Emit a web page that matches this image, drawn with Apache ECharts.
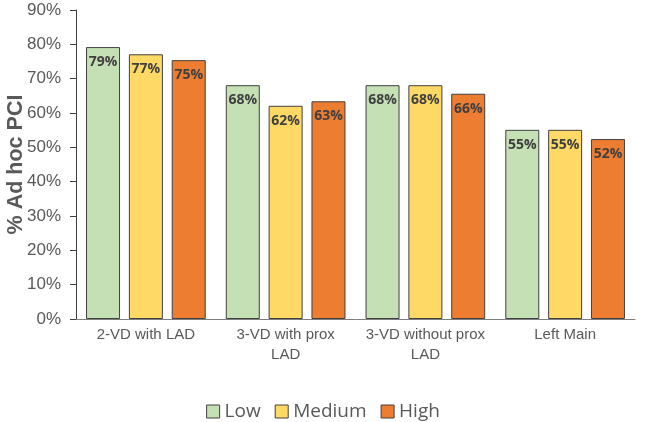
<!DOCTYPE html>
<html><head><meta charset="utf-8">
<script src="https://cdn.jsdelivr.net/npm/echarts@6/dist/echarts.min.js"></script>
<style>html,body{margin:0;padding:0;background:#fff}#c{width:646px;height:422px}</style>
</head><body><div id="c"></div>
<script>
var categories = ['2-VD with LAD', '3-VD with prox\nLAD', '3-VD without prox\nLAD', 'Left Main'];
var lowValues = [79.2, 68.1, 68.1, 55.1];
var mediumValues = [77.1, 62.1, 68.1, 55.1];
var highValues = [75.4, 63.4, 65.6, 52.4];
var seriesNames = ['Low', 'Medium', 'High'];
var colors = ['#C5E0B4', '#FFD966', '#ED7D31'];

var chart = echarts.init(document.getElementById('c'), null, {renderer: 'canvas'});
function mk(name, data, color) {
  return {
    name: name, type: 'bar', data: data, barWidth: 34, barGap: '26%',
    itemStyle: {color: color, borderColor: '#404040', borderWidth: 1},
    label: {show: true, position: 'insideTop', distance: 8,
      formatter: function(p){return Math.round(p.value) + '%';},
      color: '#404040', fontWeight: 'bold', fontSize: 14, fontFamily: 'Open Sans'}
  };
}
chart.setOption({
  animation: false,
  grid: {left: 76, right: 11, top: 10, bottom: 103, containLabel: false, outerBoundsMode: 'none'},
  legend: {top: 397, left: 'center', itemWidth: 13, itemHeight: 13, itemGap: 14,
    icon: 'rect',
    textStyle: {fontSize: 19, color: '#595959', fontFamily: 'Open Sans'},
    itemStyle: {borderColor: '#404040', borderWidth: 1},
    data: seriesNames},
  xAxis: {type: 'category', data: categories,
    axisLine: {lineStyle: {color: '#7f7f7f'}}, axisTick: {show: false},
    axisLabel: {fontSize: 15, color: '#595959', fontFamily: 'Liberation Sans', lineHeight: 20, margin: 6, interval: 0}},
  yAxis: {type: 'value', min: 0, max: 90, interval: 10,
    name: '% Ad hoc PCI', nameLocation: 'middle', nameGap: 49, nameRotate: 90, nameMoveOverlap: false,
    nameTextStyle: {fontSize: 21.5, fontWeight: 'bold', color: '#595959', fontFamily: 'Liberation Sans'},
    axisLine: {show: true, lineStyle: {color: '#404040'}},
    axisTick: {show: true, length: 6, lineStyle: {color: '#404040'}},
    splitLine: {show: false},
    axisLabel: {formatter: '{value}%', fontSize: 17, color: '#595959', fontFamily: 'Liberation Sans', margin: 15}},
  series: [mk(seriesNames[0], lowValues, colors[0]), mk(seriesNames[1], mediumValues, colors[1]), mk(seriesNames[2], highValues, colors[2])]
});
</script></body></html>
